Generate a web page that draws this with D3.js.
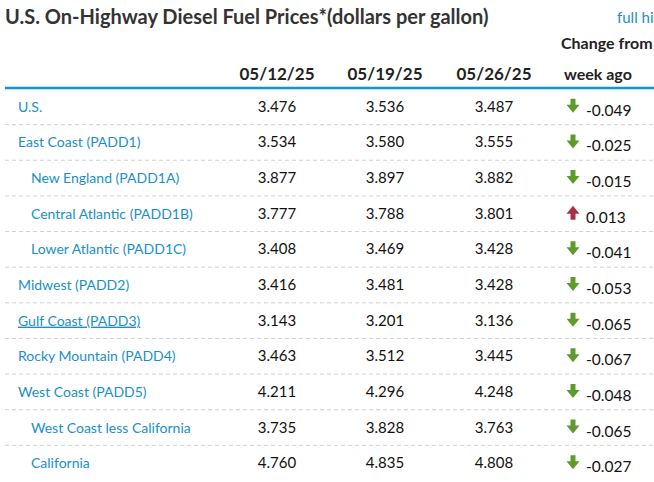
<!DOCTYPE html>
<html>
<head>
<meta charset="utf-8">
<script src="https://cdn.jsdelivr.net/npm/d3@7"></script>
<style>
  body { margin: 0; background: #fff; }
  svg { display: block; font-family: Lato, "Open Sans", sans-serif; }
</style>
</head>
<body>
<div id="chart"></div>
<script>
const regions = ['U.S.', 'East Coast (PADD1)', 'New England (PADD1A)', 'Central Atlantic (PADD1B)',
  'Lower Atlantic (PADD1C)', 'Midwest (PADD2)', 'Gulf Coast (PADD3)', 'Rocky Mountain (PADD4)',
  'West Coast (PADD5)', 'West Coast less California', 'California'];
const subRegion = [false, false, true, true, true, false, false, false, false, true, true];
const dates = ['05/12/25', '05/19/25', '05/26/25'];
const week1 = [3.476, 3.534, 3.877, 3.777, 3.408, 3.416, 3.143, 3.463, 4.211, 3.735, 4.760];
const week2 = [3.536, 3.580, 3.897, 3.788, 3.469, 3.481, 3.201, 3.512, 4.296, 3.828, 4.835];
const week3 = [3.487, 3.555, 3.882, 3.801, 3.428, 3.428, 3.136, 3.445, 4.248, 3.763, 4.808];
const change = [-0.049, -0.025, -0.015, 0.013, -0.041, -0.053, -0.065, -0.067, -0.048, -0.065, -0.027];

const width = 654, height = 482;
const blue = '#1a8fc9';

const svg = d3.select('#chart').append('svg')
  .attr('width', width).attr('height', height);

// rows
const y = d3.scaleBand().domain(d3.range(regions.length)).range([89, 481]);
const x = d3.scaleOrdinal().domain(dates).range([277, 385, 494]);

svg.append('text')
  .attr('x', 5).attr('y', 24)
  .attr('font-size', 20).attr('font-weight', 'bold').attr('fill', '#333')
  .text('U.S. On-Highway Diesel Fuel Prices*(dollars per gallon)');

// link is cut at the right edge in the reference
svg.append('text')
  .attr('x', 617).attr('y', 23)
  .attr('font-size', 15).attr('fill', blue)
  .text('full hi');

svg.append('text')
  .attr('x', 561).attr('y', 49)
  .attr('font-size', 16).attr('font-weight', 'bold').attr('fill', '#222')
  .text('Change from');
svg.append('text')
  .attr('x', 564).attr('y', 80)
  .attr('font-size', 16).attr('font-weight', 'bold').attr('fill', '#222')
  .text('week ago');

svg.selectAll('text.date').data(dates).join('text')
  .attr('class', 'date')
  .attr('x', d => x(d)).attr('y', 80)
  .attr('text-anchor', 'middle')
  .attr('font-size', 17).attr('font-weight', 'bold').attr('fill', '#222')
  .text(d => d);

svg.append('line')
  .attr('x1', 5).attr('x2', width).attr('y1', 88).attr('y2', 88)
  .attr('stroke', '#0f96d0').attr('stroke-width', 2.5);

const rows = svg.selectAll('g.row').data(regions).join('g')
  .attr('class', 'row')
  .attr('transform', (d, i) => `translate(0,${y(i)})`);

const bh = y.bandwidth();

rows.filter((d, i) => i < regions.length - 1).append('line')
  .attr('x1', 5).attr('x2', width)
  .attr('y1', bh).attr('y2', bh)
  .attr('stroke', '#d0d0d0').attr('stroke-dasharray', '4,3');

rows.append('text')
  .attr('x', (d, i) => subRegion[i] ? 31 : 18)
  .attr('y', bh / 2 + 5)
  .attr('font-size', 14).attr('fill', blue)
  .attr('text-decoration', d => d === 'Gulf Coast (PADD3)' ? 'underline' : null)
  .text(d => d);

const cols = [week1, week2, week3];
cols.forEach((vals, c) => {
  rows.append('text')
    .attr('x', x(dates[c]))
    .attr('y', bh / 2 + 5)
    .attr('text-anchor', 'middle')
    .attr('font-size', 15).attr('fill', '#111')
    .text((d, i) => vals[i].toFixed(3));
});

const down = 'M-2.5,-7 L2.5,-7 L2.5,-1 L6.5,-1 L0,7 L-6.5,-1 L-2.5,-1 Z';
const up = 'M-2.5,7 L2.5,7 L2.5,1 L6.5,1 L0,-7 L-6.5,1 L-2.5,1 Z';

rows.append('path')
  .attr('transform', `translate(573,${bh / 2 - 1})`)
  .attr('d', (d, i) => change[i] < 0 ? down : up)
  .attr('fill', (d, i) => change[i] < 0 ? '#5f9a2c' : '#a5324a');

rows.append('text')
  .attr('x', 586).attr('y', bh / 2 + 9)
  .attr('font-size', 15.5).attr('fill', '#111')
  .text((d, i) => change[i].toFixed(3));
</script>
</body>
</html>
